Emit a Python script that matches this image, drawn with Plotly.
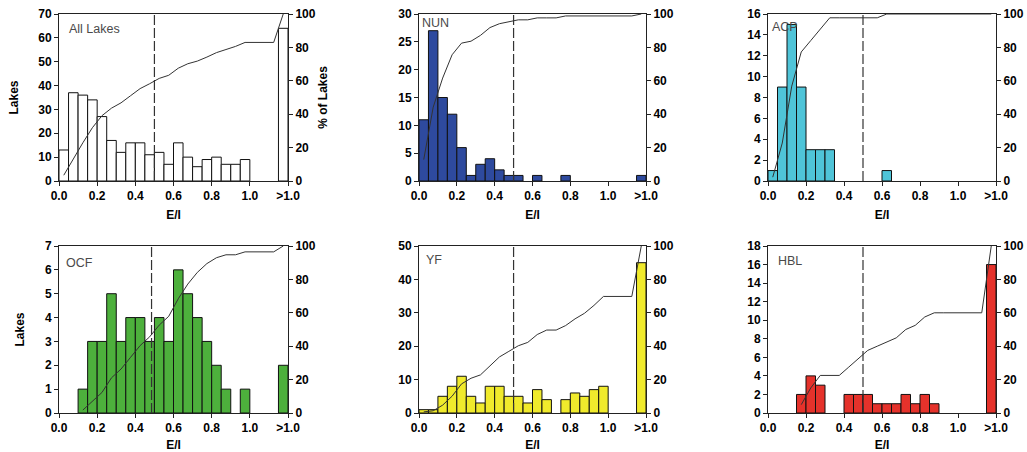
import plotly.graph_objects as go

# ---------------- data ----------------
# bin lower edges (width 0.05); last bin is the ">1.0" class
bin_lo = [0.00, 0.05, 0.10, 0.15, 0.20, 0.25, 0.30, 0.35, 0.40, 0.45,
          0.50, 0.55, 0.60, 0.65, 0.70, 0.75, 0.80, 0.85, 0.90, 0.95, 1.15]
empty_gap_lo = [1.00, 1.05, 1.10]   # empty bins between 1.0 and ">1.0"

panel_names = ["All Lakes", "NUN", "ACP", "OCF", "YF", "HBL"]

all_lakes = [13, 37, 36, 34, 27, 17, 12, 16, 16, 11, 12, 7, 16, 10, 6, 9, 10, 7, 7, 9, 64]
nun       = [11, 27, 15, 12, 6, 1, 3, 4, 2, 1, 1, 0, 1, 0, 0, 1, 0, 0, 0, 0, 1]
acp       = [1, 9, 15, 9, 3, 3, 3, 0, 0, 0, 0, 0, 1, 0, 0, 0, 0, 0, 0, 0, 0]
ocf       = [0, 0, 1, 3, 3, 5, 3, 4, 4, 3, 4, 3, 6, 5, 4, 3, 2, 1, 0, 1, 2]
yf        = [1, 1, 5, 8, 11, 5, 3, 8, 8, 5, 5, 3, 7, 4, 0, 4, 6, 5, 7, 8, 45]
hbl       = [0, 0, 0, 2, 4, 3, 0, 0, 2, 2, 2, 1, 1, 1, 2, 1, 2, 1, 0, 0, 16]
panel_counts = [all_lakes, nun, acp, ocf, yf, hbl]

threshold = [0.5, 0.5, 0.5, 0.485, 0.5, 0.5]

x_tickvals = [0.0, 0.2, 0.4, 0.6, 0.8, 1.0, 1.2]
x_ticktext = ["0.0", "0.2", "0.4", "0.6", "0.8", "1.0", ">1.0"]

# ---------------- style ----------------
colors = ["#FFFFFF", "#2E4A9E", "#4FC4D8", "#4DB03C", "#F0EA2C", "#E5322B"]
left_max = [70, 30, 16, 7, 50, 18]
left_dtick = [10, 5, 2, 1, 10, 2]
label_pos = [(0.035, 0.91), (0.005, 0.945), (0.01, 0.92),
             (0.02, 0.90), (0.02, 0.915), (0.035, 0.91)]

W, H = 1027, 452
col_px = [(59, 288), (419, 646), (768, 996)]
row_px = [(14, 181), (246, 413)]

FONT = "Liberation Sans, Arial, sans-serif"
tickfont = dict(family=FONT, size=12, color="#000", weight="bold")
titlefont = dict(family=FONT, size=12, color="#000", weight="bold")
LINEC = "#222"

fig = go.Figure()
layout = dict(width=W, height=H, margin=dict(l=0, r=0, t=0, b=0),
              paper_bgcolor="white", plot_bgcolor="white",
              showlegend=False, template="none", shapes=[], annotations=[])

for k in range(6):
    r, c = divmod(k, 3)
    xd = [col_px[c][0] / W, col_px[c][1] / W]
    yd = [1 - row_px[r][1] / H, 1 - row_px[r][0] / H]
    xid = "x" if k == 0 else f"x{k+1}"
    ly, ry = 2 * k + 1, 2 * k + 2
    lyid = "y" if ly == 1 else f"y{ly}"
    ryid = f"y{ry}"
    xkey = "xaxis" if k == 0 else f"xaxis{k+1}"
    lykey = "yaxis" if ly == 1 else f"yaxis{ly}"
    rykey = f"yaxis{ry}"

    counts = panel_counts[k]
    fig.add_trace(go.Bar(
        x=bin_lo, y=[v if v > 0 else None for v in counts], width=0.05, offset=0,
        marker=dict(color=colors[k], line=dict(color="#111", width=1)),
        xaxis=xid, yaxis=lyid))

    # cumulative percentage line at bin centres
    full_lo = bin_lo[:20] + empty_gap_lo + bin_lo[20:]
    full_counts = counts[:20] + [0, 0, 0] + counts[20:]
    total = sum(full_counts)
    cum, run = [], 0
    for v in full_counts:
        run += v
        cum.append(100.0 * run / total)
    first = next(i for i, v in enumerate(full_counts) if v > 0)
    cx = [lo + 0.025 for lo in full_lo[first:]]
    cy = cum[first:]
    fig.add_trace(go.Scatter(
        x=cx, y=cy, mode="lines", line=dict(color="#333", width=1),
        xaxis=xid, yaxis=ryid))

    layout[xkey] = dict(
        domain=xd, anchor=lyid, range=[0, 1.2], tickvals=x_tickvals,
        ticktext=x_ticktext, ticks="outside", ticklen=4, tickcolor=LINEC,
        showline=True, linecolor=LINEC, linewidth=1, mirror=True,
        showgrid=False, zeroline=False, tickfont=tickfont,
        title=dict(text="E/I", font=titlefont, standoff=8))
    layout[lykey] = dict(
        domain=yd, anchor=xid, range=[0, left_max[k]], dtick=left_dtick[k],
        tick0=0, ticks="outside", ticklen=4, tickcolor=LINEC,
        showline=True, linecolor=LINEC, linewidth=1, showgrid=False,
        zeroline=False, tickfont=tickfont,
        title=dict(text="Lakes" if c == 0 else "", font=titlefont, standoff=17))
    layout[rykey] = dict(
        overlaying=lyid, side="right", anchor=xid, range=[0, 100], dtick=20,
        tick0=0, ticks="outside", ticklen=4, tickcolor=LINEC,
        showline=True, linecolor=LINEC, linewidth=1, showgrid=False,
        zeroline=False, tickfont=tickfont,
        title=dict(text="% of Lakes" if k == 0 else "", font=titlefont, standoff=3))

    layout["shapes"].append(dict(
        type="line", xref=xid, yref=f"{lyid} domain",
        x0=threshold[k], x1=threshold[k], y0=0, y1=1,
        line=dict(color="#333", width=1.2, dash="10px,3px"), layer="above"))

    layout["annotations"].append(dict(
        xref=f"{xid} domain", yref=f"{lyid} domain",
        x=label_pos[k][0], y=label_pos[k][1], xanchor="left", yanchor="middle",
        text=panel_names[k], showarrow=False,
        font=dict(family=FONT, size=12.5, color="#4a4a4a")))

fig.update_layout(**layout)
fig.write_html("out.html", config={"displayModeBar": False},
               post_script="document.body.style.margin='0';document.body.style.overflow='hidden';")
